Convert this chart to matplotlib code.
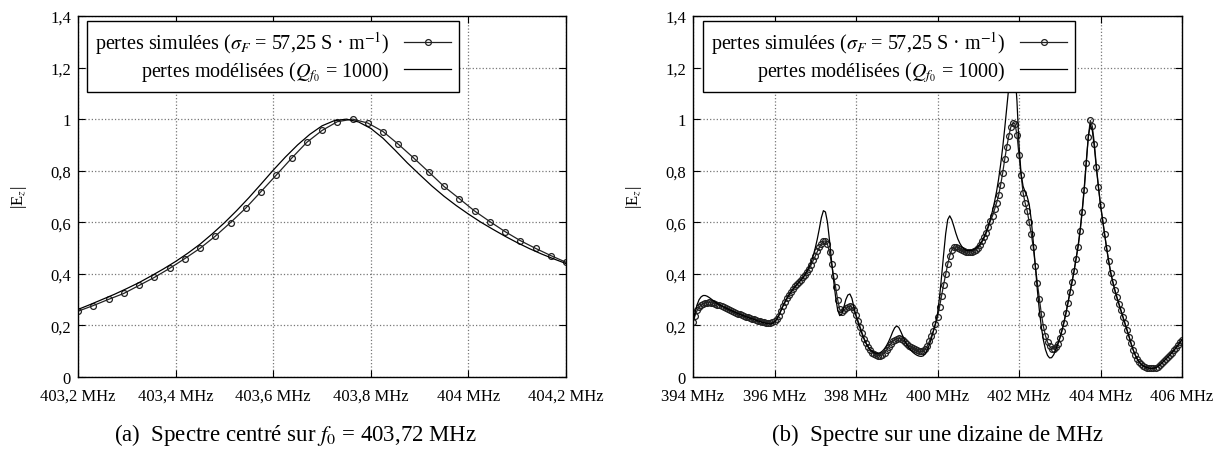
import numpy as np
import matplotlib
matplotlib.use("Agg")
import matplotlib.pyplot as plt
from matplotlib.ticker import FixedLocator, FixedFormatter

plt.rcParams['font.family'] = ['Liberation Serif', 'DejaVu Serif']
plt.rcParams['mathtext.fontset'] = 'stix'

# ---- (a) spectre centre sur f0 ----
freq_a_sim = np.linspace(403.2, 404.2, 33)
sim_a = [0.255, 0.277, 0.301, 0.324, 0.355, 0.386, 0.421, 0.459, 0.499, 0.546,
         0.599, 0.655, 0.719, 0.783, 0.848, 0.910, 0.956, 0.990, 1.000, 0.985,
         0.952, 0.903, 0.850, 0.795, 0.739, 0.692, 0.644, 0.603, 0.564, 0.529,
         0.499, 0.471, 0.445]

freq_a_mod = np.linspace(403.2, 404.2, 41)
mod_a = [0.262, 0.281, 0.301, 0.321, 0.343, 0.366, 0.392, 0.419, 0.448, 0.480,
         0.515, 0.555, 0.598, 0.645, 0.695, 0.748, 0.802, 0.853, 0.900, 0.941,
         0.974, 0.994, 1.000, 0.989, 0.964, 0.926, 0.879, 0.830, 0.785, 0.741,
         0.701, 0.665, 0.632, 0.601, 0.573, 0.546, 0.521, 0.498, 0.477, 0.458,
         0.440]

# ---- (b) spectre sur une dizaine de MHz (pas de 0,05 MHz) ----
freq_b = np.linspace(394.0, 406.0, 241)
sim_b = [
    0.212,
    0.238, 0.258, 0.271, 0.279, 0.284, 0.287, 0.288, 0.289, 0.288, 0.286,
    0.284, 0.281, 0.278, 0.275, 0.271, 0.267, 0.264, 0.260, 0.257, 0.253,
    0.250, 0.246, 0.243, 0.240, 0.237, 0.234, 0.231, 0.228, 0.226, 0.223,
    0.221, 0.218, 0.216, 0.214, 0.212, 0.211, 0.210, 0.210, 0.212, 0.216,
    # 396 -> 398
    0.224, 0.238, 0.256, 0.274, 0.290, 0.305, 0.318, 0.330, 0.341, 0.351,
    0.360, 0.369, 0.377, 0.386, 0.396, 0.407, 0.420, 0.435, 0.452, 0.470,
    0.487, 0.503, 0.516, 0.526, 0.528, 0.515, 0.483, 0.440, 0.392, 0.348,
    0.300, 0.262, 0.252, 0.258, 0.266, 0.272, 0.275, 0.270, 0.258, 0.240,
    # 398 -> 400
    0.218, 0.195, 0.170, 0.149, 0.131, 0.116, 0.104, 0.095, 0.089, 0.085,
    0.083, 0.083, 0.087, 0.094, 0.104, 0.116, 0.128, 0.138, 0.145, 0.149,
    0.150, 0.148, 0.142, 0.135, 0.128, 0.122, 0.116, 0.111, 0.107, 0.103,
    0.100, 0.099, 0.101, 0.108, 0.121, 0.138, 0.158, 0.180, 0.205, 0.232,
    # 400 -> 402
    0.272, 0.316, 0.358, 0.398, 0.437, 0.470, 0.492, 0.503, 0.505, 0.502,
    0.497, 0.492, 0.488, 0.485, 0.484, 0.484, 0.486, 0.489, 0.494, 0.502,
    0.512, 0.526, 0.542, 0.560, 0.582, 0.606, 0.625, 0.650, 0.675, 0.705,
    0.745, 0.792, 0.845, 0.893, 0.935, 0.970, 0.985, 0.982, 0.940, 0.860,
    # 402 -> 404
    0.785, 0.715, 0.675, 0.645, 0.600, 0.556, 0.503, 0.432, 0.365, 0.303,
    0.243, 0.195, 0.160, 0.135, 0.119, 0.110, 0.109, 0.116, 0.129, 0.150,
    0.178, 0.210, 0.247, 0.288, 0.328, 0.368, 0.410, 0.458, 0.505, 0.565,
    0.640, 0.725, 0.830, 0.930, 0.995, 0.972, 0.905, 0.815, 0.738, 0.668,
    # 404 -> 406
    0.610, 0.555, 0.500, 0.450, 0.405, 0.370, 0.338, 0.310, 0.284, 0.259,
    0.233, 0.208, 0.183, 0.157, 0.130, 0.106, 0.086, 0.070, 0.058, 0.049,
    0.043, 0.039, 0.036, 0.034, 0.033, 0.034, 0.036, 0.040, 0.046, 0.053,
    0.061, 0.069, 0.077, 0.085, 0.094, 0.103, 0.113, 0.123, 0.134, 0.145,
]
mod_b = [
    0.212,
    0.250, 0.280, 0.300, 0.311, 0.316, 0.316, 0.313, 0.308, 0.302, 0.296,
    0.290, 0.285, 0.280, 0.276, 0.272, 0.268, 0.264, 0.260, 0.257, 0.253,
    0.250, 0.246, 0.243, 0.240, 0.237, 0.234, 0.231, 0.228, 0.226, 0.223,
    0.220, 0.217, 0.215, 0.212, 0.210, 0.208, 0.207, 0.206, 0.208, 0.213,
    # 396 -> 398
    0.222, 0.236, 0.254, 0.272, 0.288, 0.303, 0.316, 0.328, 0.339, 0.349,
    0.358, 0.367, 0.376, 0.386, 0.398, 0.412, 0.427, 0.445, 0.470, 0.500,
    0.535, 0.575, 0.618, 0.645, 0.640, 0.600, 0.530, 0.450, 0.375, 0.310,
    0.260, 0.238, 0.243, 0.270, 0.300, 0.318, 0.322, 0.305, 0.270, 0.238,
    # 398 -> 400
    0.212, 0.189, 0.166, 0.146, 0.129, 0.116, 0.106, 0.099, 0.094, 0.092,
    0.092, 0.095, 0.101, 0.110, 0.122, 0.137, 0.155, 0.175, 0.191, 0.198,
    0.192, 0.176, 0.158, 0.140, 0.125, 0.113, 0.103, 0.095, 0.089, 0.084,
    0.081, 0.080, 0.082, 0.090, 0.105, 0.125, 0.150, 0.178, 0.208, 0.245,
    # 400 -> 402
    0.310, 0.390, 0.475, 0.555, 0.610, 0.625, 0.610, 0.585, 0.558, 0.535,
    0.518, 0.505, 0.497, 0.492, 0.490, 0.490, 0.492, 0.495, 0.500, 0.507,
    0.517, 0.530, 0.546, 0.565, 0.588, 0.614, 0.645, 0.680, 0.720, 0.768,
    0.825, 0.890, 0.965, 1.045, 1.125, 1.190, 1.215, 1.185, 1.070, 0.900,
    # 402 -> 404
    0.790, 0.740, 0.718, 0.700, 0.670, 0.610, 0.525, 0.430, 0.338, 0.258,
    0.192, 0.142, 0.106, 0.084, 0.074, 0.075, 0.086, 0.104, 0.126, 0.150,
    0.178, 0.210, 0.246, 0.286, 0.326, 0.367, 0.410, 0.458, 0.508, 0.570,
    0.645, 0.732, 0.835, 0.930, 0.980, 0.955, 0.890, 0.808, 0.735, 0.667,
    # 404 -> 406
    0.610, 0.555, 0.500, 0.450, 0.405, 0.370, 0.338, 0.310, 0.284, 0.259,
    0.233, 0.208, 0.183, 0.157, 0.130, 0.106, 0.086, 0.070, 0.058, 0.049,
    0.043, 0.039, 0.036, 0.034, 0.033, 0.034, 0.036, 0.040, 0.046, 0.053,
    0.061, 0.069, 0.077, 0.085, 0.094, 0.103, 0.113, 0.123, 0.134, 0.145,
]

xticks_a = [403.2, 403.4, 403.6, 403.8, 404.0, 404.2]
xlabels_a = ['403,2 MHz', '403,4 MHz', '403,6 MHz', '403,8 MHz', '404 MHz', '404,2 MHz']
xticks_b = [394, 396, 398, 400, 402, 404, 406]
xlabels_b = ['394 MHz', '396 MHz', '398 MHz', '400 MHz', '402 MHz', '404 MHz', '406 MHz']
yticks = [0, 0.2, 0.4, 0.6, 0.8, 1.0, 1.2, 1.4]
ylabels = ['0', '0,2', '0,4', '0,6', '0,8', '1', '1,2', '1,4']

label_sim = r'pertes simulées ($\sigma_F$ = 57,25 S · m$^{-1}$)'
label_mod = r'pertes modélisées ($Q_{f_0}$ = 1000)'
captions = [r'(a)  Spectre centré sur $f_0$ = 403,72 MHz',
            '(b)  Spectre sur une dizaine de MHz']

fig = plt.figure(figsize=(12.15, 4.56), dpi=100)
ax_a = fig.add_axes([78 / 1215, 78 / 456, 488 / 1215, 361 / 456])
ax_b = fig.add_axes([693 / 1215, 78 / 456, 489 / 1215, 361 / 456])

ax_a.plot(freq_a_sim, sim_a, color='#222222', lw=0.9, marker='o', ms=4.2,
          mfc='none', mec='#222222', mew=0.9, label=label_sim)
ax_a.plot(freq_a_mod, mod_a, color='black', lw=0.9, label=label_mod)

ax_b.plot(freq_b, sim_b, color='#222222', lw=0.9, marker='o', ms=4.2,
          mfc='none', mec='#222222', mew=0.9, label=label_sim)
ax_b.plot(freq_b, mod_b, color='black', lw=0.9, label=label_mod)

for ax, xt, xl, xlim, cap, lx, cx in [
        (ax_a, xticks_a, xlabels_a, (403.2, 404.2), captions[0], 0.018, 0.445),
        (ax_b, xticks_b, xlabels_b, (394, 406), captions[1], 0.02, 0.5)]:
    ax.set_xlim(*xlim)
    ax.set_ylim(0, 1.4)
    ax.xaxis.set_major_locator(FixedLocator(xt))
    ax.xaxis.set_major_formatter(FixedFormatter(xl))
    ax.yaxis.set_major_locator(FixedLocator(yticks))
    ax.yaxis.set_major_formatter(FixedFormatter(ylabels))
    ax.tick_params(direction='in', length=5, width=0.8, top=True, right=True,
                   labelsize=12, pad=5)
    ax.tick_params(axis='x', pad=8)
    ax.grid(True, linestyle=':', color='#777777', linewidth=0.9)
    for s in ax.spines.values():
        s.set_linewidth(1.0)
    ax.set_ylabel(r'|E$_z$|', fontsize=12, labelpad=15)
    leg = ax.legend(loc='upper left', bbox_to_anchor=(lx, 0.986), borderaxespad=0,
                    markerfirst=False, fancybox=False, framealpha=1,
                    edgecolor='black', fontsize=14.5, handlelength=2.3,
                    handletextpad=0.75, borderpad=0.4, labelspacing=0.15)
    leg.get_frame().set_linewidth(1.0)
    ax.text(cx, -0.158, cap, transform=ax.transAxes, ha='center', va='center',
            fontsize=16.5)

fig.savefig('out.png', dpi=100)
